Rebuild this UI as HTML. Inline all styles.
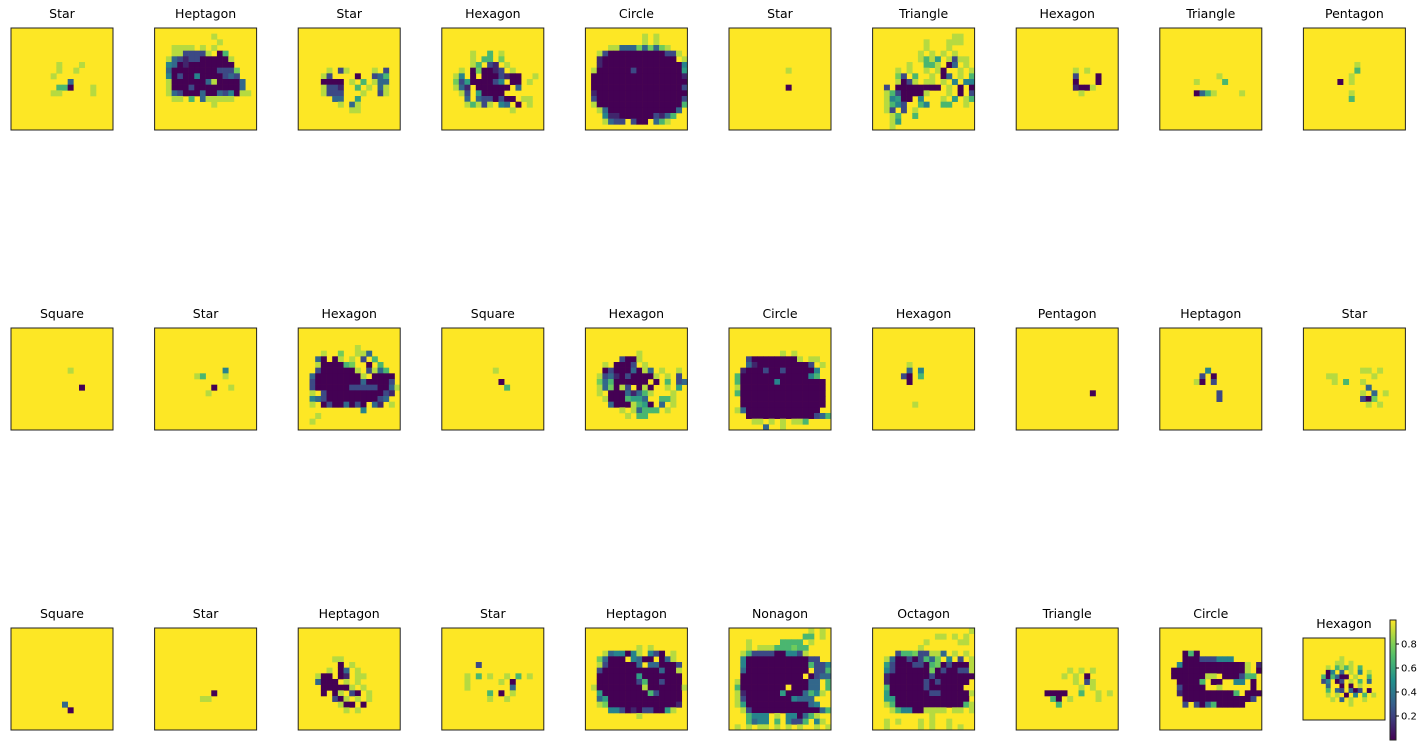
<!DOCTYPE html>
<html><head><meta charset="utf-8"><style>
html,body{margin:0;padding:0;background:#fff;}
svg{display:block;font-family:"DejaVu Sans","Liberation Sans",sans-serif;}
</style></head><body>
<svg id="fig" width="1426" height="746" viewBox="0 0 1426 746" xmlns="http://www.w3.org/2000/svg"></svg>
<script>
const titles = ["Star","Heptagon","Star","Hexagon","Circle","Star","Triangle","Hexagon","Triangle","Pentagon",
"Square","Star","Hexagon","Square","Hexagon","Circle","Hexagon","Pentagon","Heptagon","Star",
"Square","Star","Heptagon","Star","Heptagon","Nonagon","Octagon","Triangle","Circle","Hexagon"];
const grids = [
["","","","","","","........8...8.....","........8..8......",".......8..........","..........3.......","........660...8...",".......88.....8..."],
["","..........8.......","...........8......","...8888.8.8.......","...8822228.06.....","..832122000008....","..430100000000....","..3000000002227...","..4020040000232...","..80000003800003..","..80002000000003..","..832000300324088.","...88.6.388888....","..........8......."],
["","","","","","","",".....8.28....8.2..","....82....0..236..","....0000.8.6.833..","....8221..6.8.38..","....8222...8..28..","......33..5.......",".......8.38.......",".........88......."],
["","","","",".....8..6.8.......",".....8.66.7.......",".....86.21.8......","...8.070012.8.....","..84.0.0002100..8.","..725000024.00.8..","..831.000000.3....","...82.50000.......","....3.3220200.88..","....86828.43.0.8..","............8....."],
["","..........8.8.....","..........8.8.....","....88333737378...","..820000000000228.","..10000000000000.8","..1000000000000004",".80000002000000005",".00000000000000001",".00000000000000000",".00000000000000002",".10000000000000000",".20000000000000002",".80000000000000006","..830000000000003.","...4110000002136..","...8322.200.368..."],
["","","","","","","","..........8.......","","","..........0......."],
["","..............88..",".........8...888..",".........8...8....","........8.8.8.8...","........8685.8288.","......8..668.03.8.","....8.8..8.80..8.8","....72.6..8.03.8.6","....8028.88.8.4.44","..2.00000000.8.0.0","..86200008...8.0.2","..84500.4...8.5.86","..8642..64..66..8.","..82.2.8..........","...86..6..........","...85.............","...8.............."],
["","","","","","","","..........8.8.....","..........2...0...","..........0...0...","..........1008....","...........8......"],
["","","","","","","","","..........8.......","......8....6......","","......0368....8..."],
["","","","","","",".........8",".........6","........8","......0.8","","........8","........6"],
["","","","","","","","..........8","","","............0"],
["","","","","","","","............4",".......86...8","","..........0..8",".........8"],
["","","","..........8","....8..7..883.....","...30.08.8.2.6....","...8000067..0.6...","...20000008.2836..","..3000000008.0000.","..200000000300002.","..2000000222220038","..8.2000000000021.","..43200000000023..","..8.02003020.31.8.","...........4......","...8..............","..8..............."],
["","","","","","","",".........8","","..........0","...........6"],
["","","","",".........8........","......2008........","...8.0002.8.......","...020003083.8..8.","..82310200008.8.2.","..736000000.0.6.23","..837082.080..8.5.","..8.00031368...8..","...80006553..668..","....30008650.3.8..","......8.83666.8...",".......8.66......."],
["","","","",".........8.8......","...2000000008.88..","...310000000002.8.","..10002002000004..",".600000000000046..",".6000000400000000.",".8000000000000000.",".6000000000000000.","..000000000000000.","..000000000000000.",".830000000000000..","...000000000000236","....88.8.8.886....","......3..8........"],
["","","","","","","......8...","......3.4",".....20.6","......0","","","",".......8"],
["","","","","","","","","","","",".............0"],
["","","","","","","","........4",".......2.0","......80.2","","..........2","..........2"],
["","","","","","","","..........88.8","....88......8",".....8.6..8....","...........3","..........8.3.8","..........207","...........8.8"],
["","","","","","","","","","","","","",".........3","..........0"],
["","","","","","","","","","","","..........0","........88"],
["","","","","","......88..",".......0.8..",".....8.03.8","...800.01.88...","...3000.8.8...","....000008.8..","....0.08.20.8","......208.8.8.",".......800.0.","........8.8"],
["","","","","","","......2","","....8.6.8..8.6.8","....8.....8.0.","....8.......3","........6.0.8","........8..8"],
["","","",".........8.8......","...8344048.420.8..","..73000.4300.038..","..82000003.330002.","..200000000003008.","..000000050000000.","..000000026002000.",".80000000080000008","..500000000620000.","..350000000000000.","..870000000000001.","....442010220058..",".........8........"],
["..............8.8.",".............66.8.","...8.....6666.8...","...8.888666766....","..862222004428....","..40000000000022..","..4000000000006224","..300000000000.226","..00000000000.0233",".800000000000033.6",".600000000900033.6",".8100000050003648.",".82000000004333...",".850000000000034..","..8200000000000036","...6444.8.440368..","...6344.6.4226.48.",".8.8.88.8.8.8..8.8"],
[".................8","...........88.8.8.",".........8.....88.","........8.........","....266722883.8.8.","..8300202637.4.2.8","..5200022067020008","..4200000070200228","..1000000020000000","..100000020200000.","..60000002000000..","..5000000022000008","..550000000000000.","..8600000000000068","...8644008888.88.8","..........8.......","..8.8...8.8..8....","..8.....8.8..8.8.."],
["","","","","","","",".........8.8.8....","........8.8.0.....","..........8.28....","...........8.8....",".....0000..6..8.8.","......60.8....8...",".......6.........."],
["","","","","....060...........","....000222444.....","...4000000000008.1","..00000000000008.0","..00000088.000266.","...00006.00..44.0.","...20000..8.....0.","...10000000006.000","....0000000000002.","....2.203600000..."],
["","","","","........8.........",".......88.8.......",".....8.6868.6.....",".....04.3.8.4.8...","....606300.8..6...","....24.02.8.6.3...",".....3..0.0.8.....",".....6.32.302.0...",".....8.8.0.4.6.8..","......8.3.8..8....","..........8......."]
];
const cbTicks = [0.2,0.4,0.6,0.8];

const NS="http://www.w3.org/2000/svg";
const svg=document.getElementById('fig');
const stops=[[0x44,0x01,0x54],[0x3b,0x52,0x8b],[0x21,0x91,0x8c],[0x5e,0xc9,0x62],[0xfd,0xe7,0x25]];
function viridis(v){v=Math.max(0,Math.min(1,v));const t=v*4,i=Math.min(3,Math.floor(t)),f=t-i;const a=stops[i],b=stops[i+1];
return `rgb(${Math.round(a[0]+(b[0]-a[0])*f)},${Math.round(a[1]+(b[1]-a[1])*f)},${Math.round(a[2]+(b[2]-a[2])*f)})`;}
function mk(tag,attrs){const e=document.createElementNS(NS,tag);for(const k in attrs)e.setAttribute(k,attrs[k]);return e;}
const N=18;
function panelBox(i){
  if(i===29) return {x:1303,y:638,s:82,ty:628};
  const r=Math.floor(i/10),c=i%10;
  return {x:11+c*143.6,y:28+r*300,s:102,ty:18+r*300};
}
grids.forEach((g,i)=>{
  const b=panelBox(i);
  const grp=mk('g',{});
  
  
  grp.appendChild(mk('rect',{x:b.x,y:b.y,width:b.s,height:b.s,fill:'#fde725'}));
  const cs=b.s/N;
  for(let r=0;r<N;r++){
    const row=g[r]||"";
    for(let c=0;c<N;c++){
      const ch=row[c];
      if(!ch||ch==='.')continue;
      const v=parseInt(ch,10)/9;
      const cell=mk('rect',{x:(b.x+c*cs).toFixed(2),y:(b.y+r*cs).toFixed(2),width:(cs+0.3).toFixed(2),height:(cs+0.3).toFixed(2),fill:viridis(v)});
      
      
      grp.appendChild(cell);
    }
  }
  grp.appendChild(mk('rect',{x:b.x,y:b.y,width:b.s,height:b.s,fill:'none',stroke:'#222','stroke-width':1}));
  const t=mk('text',{x:b.x+b.s/2,y:b.ty,'text-anchor':'middle','font-size':12.5,fill:'#000'});
  
  
  t.textContent=titles[i];
  grp.appendChild(t);
  svg.appendChild(grp);
});
const defs=mk('defs',{});
const lg=mk('linearGradient',{id:'cbg',x1:0,y1:1,x2:0,y2:0});
for(let k=0;k<=10;k++){lg.appendChild(mk('stop',{offset:k/10,'stop-color':viridis(k/10)}));}
defs.appendChild(lg);svg.appendChild(defs);
const cb=mk('g',{});


const cy=v=>740-v*120;
cb.appendChild(mk('rect',{x:1390,y:cy(1),width:6,height:120,fill:'url(#cbg)',stroke:'#222','stroke-width':1}));
cbTicks.forEach(v=>{
  cb.appendChild(mk('line',{x1:1396,x2:1399,y1:cy(v),y2:cy(v),stroke:'#000'}));
  const tl=mk('text',{x:1401,y:cy(v)+3.5,'font-size':10,fill:'#000'});
  
  
  tl.textContent=v.toFixed(1);
  cb.appendChild(tl);
});
svg.appendChild(cb);
</script>
</body></html>
